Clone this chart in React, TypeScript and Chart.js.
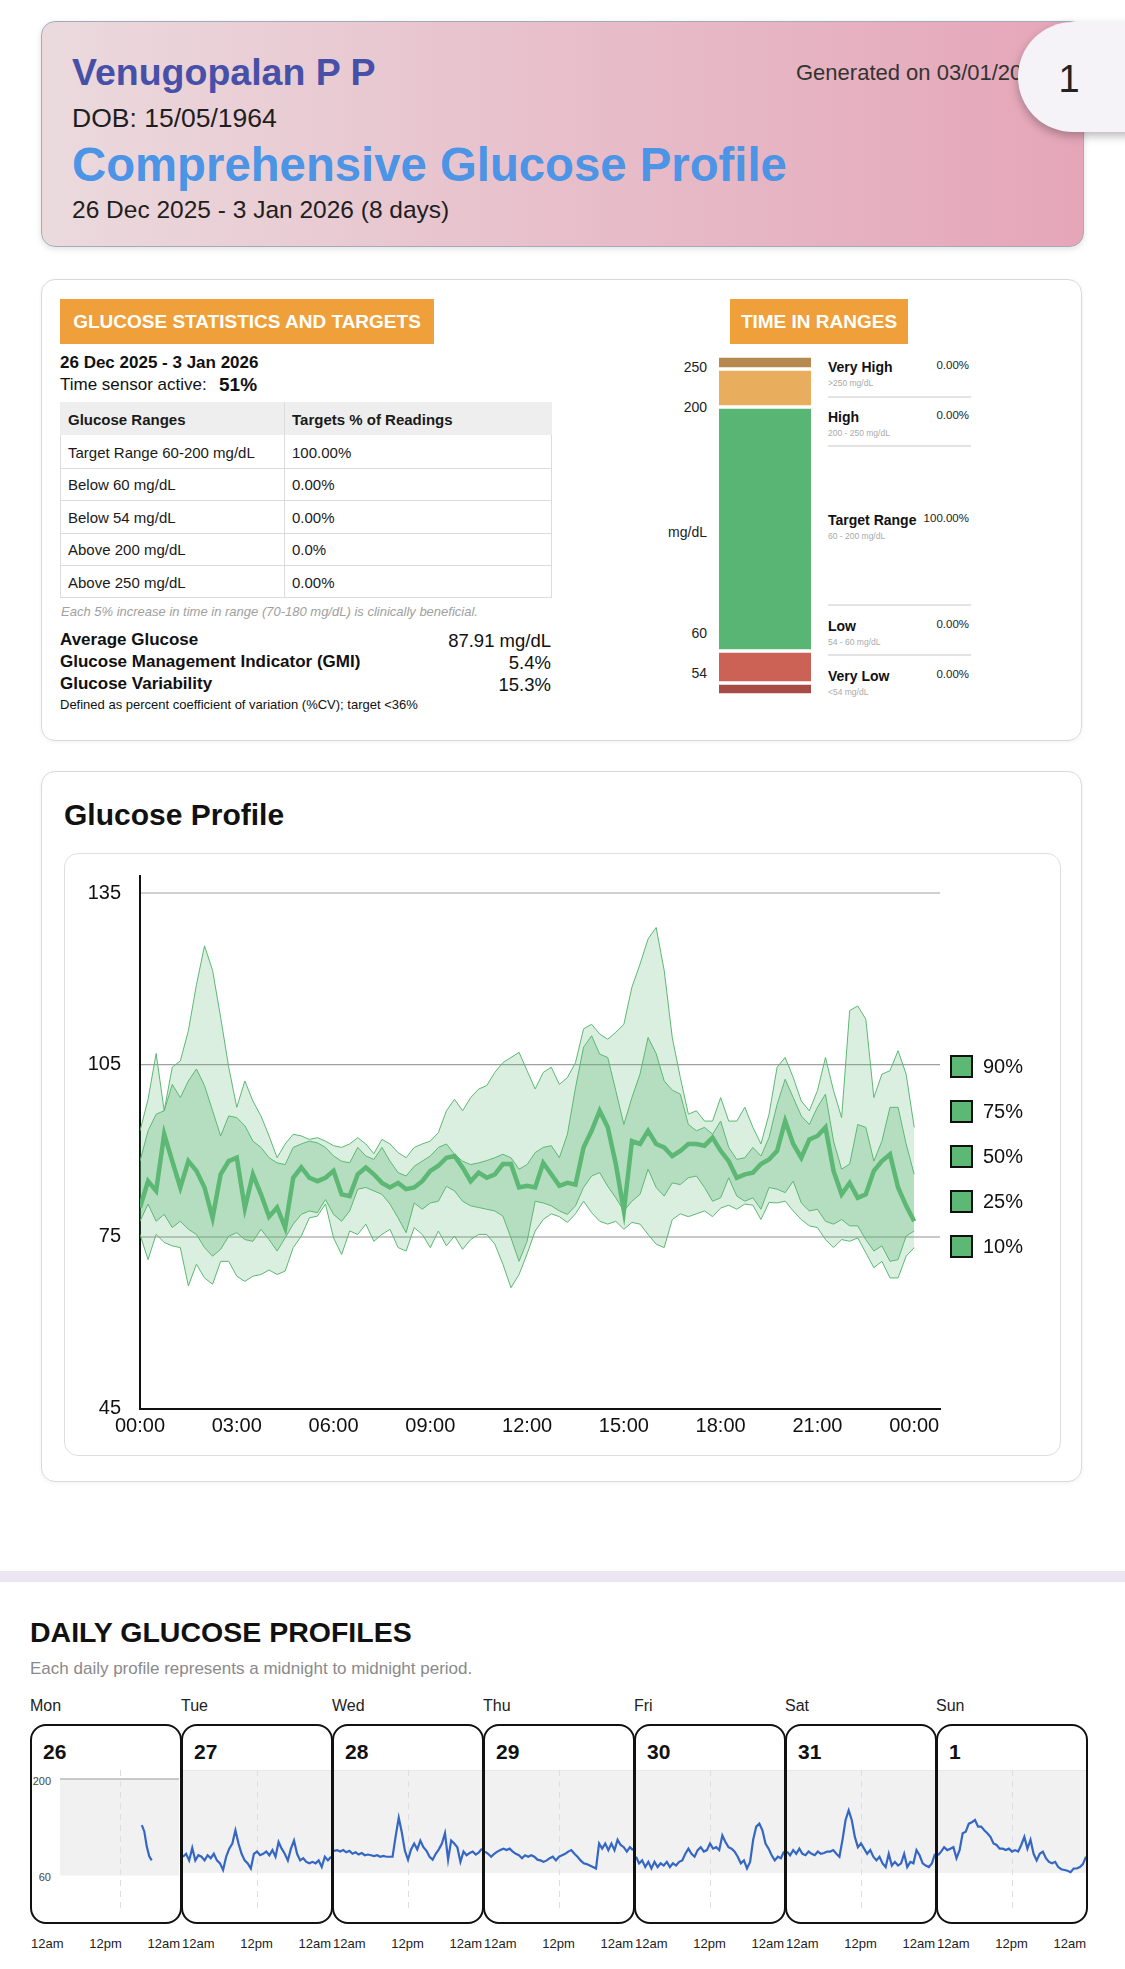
import React, { useEffect, useRef } from "react";
import { Chart, registerables } from "chart.js";
Chart.register(...registerables);

const FONT = '"Liberation Sans", Arial, Helvetica, sans-serif';
Chart.defaults.font.family = FONT;

// ---------- Glucose profile percentiles (every 15 min, 00:00 -> 24:00) ----------
const P90 = [
  93.5, 99, 107, 97, 104.6, 105.7, 111, 119, 125.8, 121.5, 113.3, 104.6,
  97.6, 102.2, 98.7, 96.1, 92.6, 88.8, 91.2, 92.9, 92.6, 92, 92.3, 91.7,
  90.9, 90.6, 91.2, 92.3, 91.2, 89.5, 92, 91.2, 89.7, 88.8, 90.6, 91.2,
  91.7, 93.2, 97, 99, 97, 99.3, 100.8, 101.4, 103.7, 105.4, 106.3, 107.2,
  104, 100.8, 103.7, 104.6, 101.6, 102.8, 105.4, 111.3, 112.1, 110.4, 109.5, 110.7,
  112.1, 118.6, 122.6, 127, 129, 121.5, 109.8, 102.8, 96.4, 97, 95.2, 95.2,
  99.3, 95.2, 95.2, 97.6, 94.1, 91.2, 96.4, 104.6, 106.3, 102.8, 98.7, 97,
  100.5, 106.3, 100.5, 95.8, 114.5, 115.3, 113, 99.3, 103.4, 104, 107.5, 103.4,
  94.1,
];
const P75 = [
  88.2, 93.5, 96.4, 97, 101.6, 99.3, 102.2, 104.3, 101.4, 97, 92.6, 96.1,
  95.8, 94.4, 91.7, 90.6, 88.8, 87.9, 87.6, 90.6, 91.2, 91.7, 91.4, 90.6,
  89.1, 88.2, 87.9, 90.6, 89.1, 88.5, 90.6, 88.2, 86.2, 85.6, 87.3, 88.2,
  89.1, 90.6, 91.2, 89.4, 88.2, 87.6, 87.9, 88.3, 88.8, 89.4, 88.8, 86.8,
  87.6, 89.7, 90.6, 90.9, 88.8, 92.9, 101, 108.1, 110.1, 106.9, 106.3, 100.5,
  94.6, 99.3, 103.4, 109.8, 107, 102.2, 100.6, 99.9, 94.6, 93.5, 94.1, 92.9,
  95.2, 90.6, 88.5, 88.8, 90.6, 89.1, 92.3, 98.1, 102.5, 99.3, 96.1, 94.6,
  97.6, 99.9, 91.7, 86.8, 87.7, 94.6, 94.1, 88.2, 91.7, 97.6, 97.6, 91.2,
  85.9,
];
const P50 = [
  80.1, 84.7, 83, 92.9, 88.2, 83.6, 88.2, 86.5, 83.6, 78.3, 85.9, 88.2,
  88.8, 80, 85.9, 82.4, 78.5, 80.1, 76.6, 85.3, 87.1, 85.3, 84.7, 85.3,
  86.5, 82.4, 82.1, 85.9, 87.1, 85.9, 84.4, 83.6, 84.4, 83.3, 83.6, 84.7,
  86.5, 87.4, 88.8, 89.1, 87.1, 84.7, 86.2, 85.3, 85.9, 87.7, 87.7, 83.6,
  83.9, 83.6, 87.9, 85.9, 83.9, 84.4, 84.1, 90.6, 93.5, 97, 94.1, 87.7,
  79.5, 91.7, 91.2, 93.5, 91.2, 90.6, 89.1, 90, 91.2, 91.2, 90.9, 92.3,
  90, 88.2, 85.3, 85.9, 86.2, 87.7, 88.5, 90, 95.2, 91.2, 88.8, 92,
  92.6, 94.1, 86.5, 82.4, 84.4, 81.8, 82.4, 86.5, 88.2, 89.4, 83.6, 80.4,
  77.7,
];
const P25 = [
  77.7, 80.7, 77.7, 78.9, 76.6, 77.7, 76.3, 75.4, 73.1, 71.6, 72.8, 75.1,
  75.7, 74.5, 74.2, 76.3, 74.5, 72.5, 74.8, 77.2, 78.9, 79.5, 79.2, 81.5,
  78.9, 77.7, 79.5, 83.3, 83.6, 83, 82.4, 80.7, 78.3, 75.7, 80.9, 79.8,
  80.9, 81.2, 83.8, 83, 81.2, 80.4, 80.1, 79.8, 79.5, 78.6, 74.8, 70.7,
  74.2, 81.2, 80.9, 80.4, 79.5, 78.9, 80.4, 83.6, 85.6, 86.2, 83.8, 81.8,
  79.5, 81.2, 82.4, 86.8, 83.6, 82.1, 84.4, 84.1, 85.3, 85.6, 83.6, 81.2,
  81.8, 85.3, 82.1, 81.2, 81.8, 79.8, 83.6, 83.3, 82.7, 84.7, 80.9, 79.5,
  79.8, 77.7, 77.2, 78, 76.9, 76.9, 74.5, 72.5, 73.4, 70.7, 71, 75.1,
  76,
];
const P10 = [
  75.4, 71, 75.4, 74, 73.4, 73.1, 66.4, 70.2, 67.8, 66.7, 70.7, 70.7,
  68.1, 67.2, 68.1, 68.4, 69.2, 68.4, 69, 73.1, 75.1, 78.3, 78.6, 80.7,
  74.8, 71.9, 76, 75.4, 77.2, 74.2, 75.4, 76.3, 73.1, 72.5, 76.6, 75.4,
  73.1, 76, 73.4, 75.1, 72.8, 74.5, 75.4, 75.4, 73.7, 70.2, 66.1, 68.4,
  72, 76, 78, 79, 78.5, 77.5, 79, 81.2, 79.2, 77.7, 77.2, 77.7,
  76.3, 77.5, 77.2, 75.4, 73.7, 73.1, 78, 79, 78.5, 79, 79.5, 78.5,
  80, 80.5, 79.8, 80.7, 80.5, 78, 81, 80.9, 81.2, 79.5, 78, 76.9,
  76.6, 74.5, 73.1, 74.5, 74.2, 74.8, 72.2, 69.6, 70.7, 67.8, 67.8, 71.6,
  73.1,
];
const TIME_TICKS = [0, 3, 6, 9, 12, 15, 18, 21, 24];
const TIME_TICK_LABELS = ["00:00", "03:00", "06:00", "09:00", "12:00", "15:00", "18:00", "21:00", "00:00"];
const Y_TICKS = [45, 75, 105, 135];
const LEGEND_LABELS = ["90%", "75%", "50%", "25%", "10%"];

// ---------- Daily profiles (every 30 min, 12am -> 12am) ----------
const _ = null;
const D26 = [_, _, _, _, _, _, _, _, _, _, _, _, _, _, _, _, _, _, _, _, _, _, _, _, _, _, _, _, _, _, _, _, _, 133, 124, 102, 88, 82, _, _, _, _, _, _, _, _, _, _, _];
const D27 = [82, 86, 77, 94, 77, 84, 82, 77, 84, 80, 86, 77, 73, 64, 82, 93, 100, 118, 100, 86, 77, 73, 66, 86, 89, 84, 86, 89, 84, 91, 82, 102, 93, 86, 77, 93, 104, 86, 77, 80, 75, 73, 75, 73, 77, 68, 82, 77, 82];
const D28 = [90, 91, 89, 91, 88, 90, 86, 88, 85, 87, 84, 85, 84, 83, 84, 82, 83, 82, 82, 82, 110, 135, 115, 90, 78, 92, 100, 92, 104, 95, 90, 82, 78, 86, 92, 100, 114, 78, 104, 100, 95, 75, 89, 84, 87, 89, 85, 88, 93];
const D29 = [89, 86, 82, 86, 89, 91, 93, 91, 93, 89, 86, 84, 80, 84, 82, 84, 82, 78, 77, 75, 77, 80, 82, 77, 82, 84, 86, 89, 91, 86, 82, 77, 73, 72, 70, 68, 66, 100, 93, 100, 91, 100, 91, 105, 98, 95, 89, 95, 91];
const D30 = [82, 73, 77, 68, 75, 66, 75, 68, 73, 70, 75, 68, 73, 70, 75, 77, 86, 93, 86, 82, 91, 95, 89, 91, 100, 93, 95, 91, 111, 102, 95, 93, 89, 82, 73, 77, 66, 75, 105, 123, 127, 118, 100, 93, 84, 77, 82, 80, 89];
const D31 = [89, 84, 91, 86, 93, 86, 84, 89, 86, 84, 89, 86, 87, 89, 89, 91, 86, 82, 105, 132, 145, 132, 109, 95, 100, 93, 86, 91, 82, 77, 82, 73, 68, 86, 70, 75, 70, 73, 86, 68, 75, 73, 91, 84, 73, 70, 68, 73, 86];
const D01 = [84, 89, 95, 91, 93, 95, 80, 91, 114, 116, 127, 129, 132, 123, 123, 118, 114, 109, 100, 98, 93, 93, 91, 93, 89, 91, 89, 98, 109, 93, 105, 86, 77, 86, 89, 80, 75, 73, 75, 68, 65, 64, 63, 61, 66, 66, 68, 72, 82];
const DAILY = [D26, D27, D28, D29, D30, D31, D01];
const DAY_NAMES = ["Mon", "Tue", "Wed", "Thu", "Fri", "Sat", "Sun"];
const DAY_NUMBERS = ["26", "27", "28", "29", "30", "31", "1"];
const DAY_X_LABELS = ["12am", "12pm", "12am"];
const TARGET_LOW = 60;
const TARGET_HIGH = 200;

// ---------- Stats ----------
const RANGE_NAMES = ["Target Range 60-200 mg/dL", "Below 60 mg/dL", "Below 54 mg/dL", "Above 200 mg/dL", "Above 250 mg/dL"];
const RANGE_VALUES = ["100.00%", "0.00%", "0.00%", "0.0%", "0.00%"];
const SUMMARY_LABELS = ["Average Glucose", "Glucose Management Indicator (GMI)", "Glucose Variability"];
const SUMMARY_VALUES = ["87.91 mg/dL", "5.4%", "15.3%"];

// Time in ranges (bottom to top)
const TIR_NAMES = ["Very Low", "Low", "Target Range", "High", "Very High"];
const TIR_SUB = ["<54 mg/dL", "54 - 60 mg/dL", "60 - 200 mg/dL", "200 - 250 mg/dL", ">250 mg/dL"];
const TIR_PCT = ["0.00%", "0.00%", "100.00%", "0.00%", "0.00%"];
const TIR_SIZES = [12, 32, 244, 38, 13];
const TIR_COLORS = ["#a64b46", "#cc6155", "#58b573", "#e8ae5e", "#b5894f"];
const TIR_AXIS = ["250", "200", "mg/dL", "60", "54"];

const GREEN = "#5cb874";

function T(props: any) {
  const { x, y, size, children, bold, color = "#222", align = "left", italic, weight, w = 700 } = props;
  const style: any = {
    position: "absolute",
    top: y - size * 0.56,
    fontSize: size,
    lineHeight: `${Math.round(size * 1.15)}px`,
    whiteSpace: "nowrap",
    fontWeight: bold ? 700 : weight || 400,
    color,
    fontStyle: italic ? "italic" : "normal",
    fontFamily: FONT,
  };
  if (align === "left") style.left = x;
  else if (align === "right") {
    style.left = x - w;
    style.width = w;
    style.textAlign = "right";
  } else {
    style.left = x - w / 2;
    style.width = w;
    style.textAlign = "center";
  }
  return <div style={style}>{children}</div>;
}

function Box(props: any) {
  const { x, y, w, h, style } = props;
  return <div style={{ position: "absolute", left: x, top: y, width: w, height: h, boxSizing: "border-box", ...style }}>{props.children}</div>;
}

function ProfileChart() {
  const ref = useRef<HTMLCanvasElement>(null);
  useEffect(() => {
    const pts = (arr: number[]) => arr.map((v, i) => ({ x: i / 4, y: v }));
    const base = { pointRadius: 0, borderColor: GREEN, borderWidth: 1, tension: 0 };
    const gridColor = (c: any) => {
      const v = c.tick && c.tick.value;
      if (v === 135) return "#d0d0d0";
      if (v === 105) return "#a0a0a0";
      if (v === 75) return "#c8c8c8";
      return "rgba(0,0,0,0)";
    };
    const gridWidth = (c: any) => {
      const v = c.tick && c.tick.value;
      return v === 105 ? 1.2 : 2;
    };
    const chart = new Chart(ref.current as HTMLCanvasElement, {
      type: "line",
      data: {
        datasets: [
          { ...base, data: pts(P10), fill: false, order: 4 },
          { ...base, data: pts(P90), fill: "-1", backgroundColor: "rgba(92,184,116,0.22)", order: 3 },
          { ...base, data: pts(P25), fill: false, order: 2 },
          { ...base, data: pts(P75), fill: "-1", backgroundColor: "rgba(92,184,116,0.30)", order: 1 },
          { ...base, data: pts(P50), fill: false, borderWidth: 4.5, order: 0 },
        ] as any,
      },
      options: {
        responsive: false,
        animation: false,
        layout: { padding: { top: 23, right: 121, bottom: 0, left: 0 } },
        plugins: { legend: { display: false }, tooltip: { enabled: false }, filler: { drawTime: "beforeDatasetsDraw" } } as any,
        scales: {
          x: {
            type: "linear",
            min: 0,
            max: 24.8,
            afterBuildTicks: (s: any) => {
              s.ticks = TIME_TICKS.map((v) => ({ value: v }));
            },
            afterFit: (s: any) => {
              s.height = 47.5;
            },
            ticks: {
              autoSkip: false,
              maxRotation: 0,
              padding: 5.5,
              font: { size: 20, family: FONT },
              color: "#111",
              callback: (_v: any, i: number) => TIME_TICK_LABELS[i],
            },
            grid: { display: false, drawTicks: false },
            border: { color: "#111", width: 2 },
          },
          y: {
            min: 45,
            max: 138,
            afterBuildTicks: (s: any) => {
              s.ticks = Y_TICKS.map((v) => ({ value: v }));
            },
            afterFit: (s: any) => {
              s.width = 76;
            },
            ticks: { padding: 0, font: { size: 20, family: FONT }, color: "#111", callback: (v: any) => String(v) },
            grid: { drawTicks: true, tickLength: 19, tickColor: "rgba(0,0,0,0)", color: gridColor, lineWidth: gridWidth },
            border: { color: "#111", width: 2 },
          },
        },
      } as any,
    });
    return () => chart.destroy();
  }, []);
  return <canvas ref={ref} width={997} height={603} style={{ position: "absolute", left: 64, top: 853, width: 997, height: 603 }} />;
}

function TirChart() {
  const ref = useRef<HTMLCanvasElement>(null);
  useEffect(() => {
    const total = TIR_SIZES.reduce((a, b) => a + b, 0);
    const chart = new Chart(ref.current as HTMLCanvasElement, {
      type: "bar",
      data: {
        labels: [""],
        datasets: TIR_SIZES.map((s, k) => ({
          data: [s],
          backgroundColor: TIR_COLORS[k],
          borderColor: "#ffffff",
          borderWidth: { top: 2, bottom: 2, left: 0, right: 0 },
          borderSkipped: false,
          barPercentage: 1,
          categoryPercentage: 1,
        })) as any,
      },
      options: {
        responsive: false,
        animation: false,
        layout: { padding: 0 },
        plugins: { legend: { display: false }, tooltip: { enabled: false } },
        scales: {
          x: { display: false, stacked: true },
          y: { display: false, stacked: true, min: 0, max: total },
        },
      } as any,
    });
    return () => chart.destroy();
  }, []);
  return <canvas ref={ref} width={92} height={339} style={{ position: "absolute", left: 719, top: 356, width: 92, height: 339 }} />;
}

const bandPlugin = {
  id: "band",
  beforeDatasetsDraw(chart: any, _a: any, opts: any) {
    const { ctx, chartArea: a, scales } = chart;
    const x = scales.x;
    const y = scales.y;
    const top = y.getPixelForValue(TARGET_HIGH);
    const bot = y.getPixelForValue(TARGET_LOW);
    ctx.save();
    ctx.fillStyle = "#f1f1f1";
    ctx.fillRect(a.left, top, a.right - a.left, bot - top);
    ctx.strokeStyle = opts.lineColor || "#dddddd";
    ctx.lineWidth = opts.lineWidth || 1;
    ctx.beginPath();
    ctx.moveTo(a.left, top);
    ctx.lineTo(a.right, top);
    ctx.stroke();
    const mx = Math.round(x.getPixelForValue(12)) + 0.5;
    ctx.setLineDash([6, 5]);
    ctx.strokeStyle = "#dedede";
    ctx.lineWidth = 1;
    ctx.beginPath();
    ctx.moveTo(mx, a.top);
    ctx.lineTo(mx, a.bottom - 4);
    ctx.stroke();
    ctx.restore();
  },
};

function DayChart({ idx, left, top, width, height, ymax, first }: any) {
  const ref = useRef<HTMLCanvasElement>(null);
  useEffect(() => {
    const chart = new Chart(ref.current as HTMLCanvasElement, {
      type: "line",
      data: {
        datasets: [
          {
            data: DAILY[idx].map((v: any, i: number) => ({ x: i / 2, y: v })),
            borderColor: "#3466c4",
            borderWidth: 2.2,
            pointRadius: 0,
            tension: 0,
            fill: false,
            spanGaps: false,
          },
        ] as any,
      },
      options: {
        responsive: false,
        animation: false,
        layout: { padding: 0 },
        plugins: {
          legend: { display: false },
          tooltip: { enabled: false },
          band: first ? { lineColor: "#b8b8b8", lineWidth: 1.5 } : { lineColor: "#dddddd", lineWidth: 1 },
        } as any,
        scales: {
          x: { type: "linear", display: false, min: 0, max: 24 },
          y: { display: false, min: 0, max: ymax },
        },
      } as any,
      plugins: [bandPlugin],
    });
    return () => chart.destroy();
  }, []);
  return <canvas ref={ref} width={width} height={height} style={{ position: "absolute", left, top, width, height }} />;
}

export default function App() {
  const cellW = 151;
  const cellX0 = 30;
  return (
    <div style={{ position: "absolute", left: 0, top: 0, width: 1125, height: 1969, overflow: "hidden", background: "#fff", fontFamily: FONT }}>
      {/* Header card */}
      <Box
        x={41}
        y={21}
        w={1043}
        h={226}
        style={{
          borderRadius: 14,
          border: "1.5px solid #a3abbb",
          background: "linear-gradient(90deg, #ebdadd 0%, #e7bcc8 55%, #e5a6b8 100%)",
          boxShadow: "0 2px 6px rgba(0,0,0,0.12)",
        }}
      />
      <T x={72} y={72} size={37.5} bold color="#4750a8">Venugopalan P P</T>
      <T x={796} y={72} size={22} color="#333">Generated on 03/01/2026</T>
      <T x={72} y={118} size={26.5} color="#1e1e1e">DOB: 15/05/1964</T>
      <T x={72} y={164} size={47.3} bold color="#4b94e6">Comprehensive Glucose Profile</T>
      <T x={72} y={210} size={24.5} color="#1e1e1e">26 Dec 2025 - 3 Jan 2026 (8 days)</T>
      <Box
        x={1018}
        y={22}
        w={140}
        h={110}
        style={{ borderRadius: "55px 0 0 55px", background: "#f5f2f8", boxShadow: "0 4px 10px rgba(0,0,0,0.28)" }}
      />
      <T x={1069} y={78} size={38} weight={300} color="#222" align="center" w={60}>1</T>

      {/* Stats card */}
      <Box x={41} y={279} w={1041} h={462} style={{ borderRadius: 14, border: "1.5px solid #d9d9d9", boxShadow: "0 1px 4px rgba(0,0,0,0.06)" }} />
      <Box x={60} y={299} w={374} h={45} style={{ background: "#f0a03a" }} />
      <T x={247} y={322} size={19} bold color="#fff" align="center" w={374}>GLUCOSE STATISTICS AND TARGETS</T>
      <T x={60} y={363} size={17} bold color="#111">26 Dec 2025 - 3 Jan 2026</T>
      <T x={60} y={385} size={17} color="#111">Time sensor active:</T>
      <T x={219} y={385} size={19} bold color="#111">51%</T>

      {/* Table */}
      <Box x={60} y={402} w={492} h={196} style={{ border: "1px solid #dcdcdc" }} />
      <Box x={60} y={402} w={492} h={33} style={{ background: "#eeeeee" }} />
      <Box x={284} y={402} w={1} h={196} style={{ background: "#dcdcdc" }} />
      <T x={68} y={419} size={15} bold color="#1a1a1a">Glucose Ranges</T>
      <T x={292} y={419} size={15} bold color="#1a1a1a">Targets % of Readings</T>
      {RANGE_NAMES.map((n, k) => (
        <React.Fragment key={n}>
          {k > 0 && <Box x={60} y={435 + k * 32.6} w={492} h={1} style={{ background: "#dcdcdc" }} />}
          <T x={68} y={452 + k * 32.6} size={15} color="#1a1a1a">{n}</T>
          <T x={292} y={452 + k * 32.6} size={15} color="#1a1a1a">{RANGE_VALUES[k]}</T>
        </React.Fragment>
      ))}
      <T x={61} y={611} size={13} italic color="#a0a0a0">Each 5% increase in time in range (70-180 mg/dL) is clinically beneficial.</T>
      {SUMMARY_LABELS.map((n, k) => (
        <React.Fragment key={n}>
          <T x={60} y={640 + k * 22} size={17} bold color="#111">{n}</T>
          <T x={551} y={640 + k * 22} size={18.5} color="#111" align="right" w={200}>{SUMMARY_VALUES[k]}</T>
        </React.Fragment>
      ))}
      <T x={60} y={704} size={13} color="#111">Defined as percent coefficient of variation (%CV); target &lt;36%</T>

      {/* Time in ranges */}
      <Box x={730} y={299} w={178} h={45} style={{ background: "#f0a03a" }} />
      <T x={819} y={322} size={19} bold color="#fff" align="center" w={178}>TIME IN RANGES</T>
      <TirChart />
      {TIR_AXIS.map((l, k) => (
        <T key={l} x={707} y={[367, 407, 532, 633, 673][k]} size={14} color="#222" align="right" w={80}>{l}</T>
      ))}
      {TIR_NAMES.map((n, k) => {
        const ys = [676, 626, 520, 417, 367];
        const y = ys[k];
        return (
          <React.Fragment key={n}>
            <T x={828} y={y} size={14} bold color="#111">{n}</T>
            <T x={828} y={y + 16} size={8.5} color="#aaa">{TIR_SUB[k]}</T>
            <T x={969} y={y - 2} size={11.5} color="#222" align="right" w={80}>{TIR_PCT[k]}</T>
          </React.Fragment>
        );
      })}
      {[397, 446, 605, 655].map((y) => (
        <Box key={y} x={828} y={y - 1} w={143} h={2} style={{ background: "#e3e3e3" }} />
      ))}

      {/* Glucose Profile */}
      <Box x={41} y={771} w={1041} h={711} style={{ borderRadius: 14, border: "1.5px solid #dadada", boxShadow: "0 1px 4px rgba(0,0,0,0.06)" }} />
      <T x={64} y={814} size={30} bold color="#111">Glucose Profile</T>
      <Box x={64} y={853} w={997} h={603} style={{ borderRadius: 14, border: "1.5px solid #dedede" }} />
      <ProfileChart />
      {LEGEND_LABELS.map((l, k) => {
        const cy = 1066 + k * 45;
        return (
          <React.Fragment key={l}>
            <Box x={950} y={cy - 11.5} w={23} h={23} style={{ background: GREEN, border: "2px solid #111" }} />
            <T x={983} y={cy} size={20} color="#111">{l}</T>
          </React.Fragment>
        );
      })}

      {/* Separator */}
      <Box x={0} y={1571} w={1125} h={11} style={{ background: "#ece6f2" }} />

      {/* Daily profiles */}
      <T x={30} y={1632} size={28.5} bold color="#111">DAILY GLUCOSE PROFILES</T>
      <T x={30} y={1669} size={17} color="#8a8a8a">Each daily profile represents a midnight to midnight period.</T>
      {DAY_NAMES.map((d, i) => {
        const cx = cellX0 + i * cellW;
        const first = i === 0;
        return (
          <React.Fragment key={d}>
            <T x={cx} y={1706} size={16} color="#222">{d}</T>
            <Box x={cx} y={1724} w={cellW + 1} h={200} style={{ border: "2px solid #111", borderRadius: 16 }} />
            <T x={cx + 13} y={1752} size={21} bold color="#111">{DAY_NUMBERS[i]}</T>
            <DayChart
              idx={i}
              left={first ? 60 : cx + 2}
              top={1770}
              width={first ? 119 : cellW - 3}
              height={147}
              ymax={first ? 213 : 200}
              first={first}
            />
            <T x={cx + 1} y={1943} size={13} color="#222">{DAY_X_LABELS[0]}</T>
            <T x={cx + cellW / 2} y={1943} size={13} color="#222" align="center" w={60}>{DAY_X_LABELS[1]}</T>
            <T x={cx + cellW - 1} y={1943} size={13} color="#222" align="right" w={60}>{DAY_X_LABELS[2]}</T>
          </React.Fragment>
        );
      })}
      <T x={51} y={1781} size={11} color="#444" align="right" w={40}>{String(TARGET_HIGH)}</T>
      <T x={51} y={1877} size={11} color="#444" align="right" w={40}>{String(TARGET_LOW)}</T>
    </div>
  );
}
